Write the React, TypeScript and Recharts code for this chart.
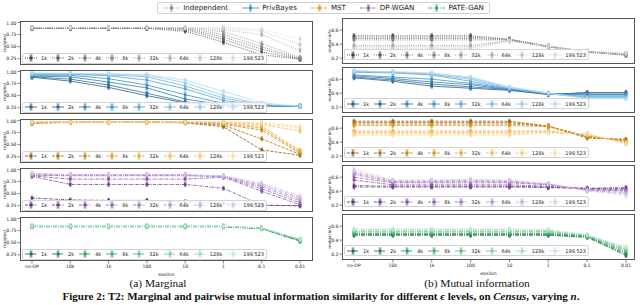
import React from 'react';
import { LineChart, Line, XAxis, YAxis } from 'recharts';

const epsilons = ['no-DP', '10k', '1k', '100', '10', '1', '0.1', '0.01'];
const sizes = ['1k', '2k', '4k', '8k', '32k', '64k', '128k', '199,523'];
const methods = ['Independent', 'PrivBayes', 'MST', 'DP-WGAN', 'PATE-GAN'];

// one row per dataset size (1k ... 199,523), one value per epsilon
const independentMarginal = [
  [0.875, 0.875, 0.875, 0.875, 0.82, 0.59, 0.33, 0.24],
  [0.88, 0.88, 0.88, 0.88, 0.85, 0.65, 0.39, 0.24],
  [0.885, 0.885, 0.885, 0.885, 0.87, 0.7, 0.45, 0.25],
  [0.89, 0.89, 0.89, 0.89, 0.88, 0.75, 0.5, 0.26],
  [0.89, 0.89, 0.89, 0.89, 0.885, 0.81, 0.56, 0.28],
  [0.895, 0.895, 0.895, 0.895, 0.89, 0.85, 0.75, 0.42],
  [0.895, 0.895, 0.895, 0.895, 0.89, 0.88, 0.82, 0.54],
  [0.9, 0.9, 0.9, 0.9, 0.895, 0.9, 0.86, 0.66],
];
const independentMI = [
  [0.52, 0.52, 0.52, 0.52, 0.47, 0.37, 0.29, 0.24],
  [0.5, 0.5, 0.5, 0.5, 0.47, 0.37, 0.29, 0.25],
  [0.48, 0.48, 0.48, 0.48, 0.46, 0.36, 0.29, 0.25],
  [0.46, 0.46, 0.46, 0.46, 0.46, 0.36, 0.28, 0.25],
  [0.38, 0.38, 0.38, 0.38, 0.45, 0.36, 0.29, 0.26],
  [0.36, 0.36, 0.36, 0.36, 0.45, 0.37, 0.29, 0.26],
  [0.34, 0.34, 0.34, 0.34, 0.45, 0.37, 0.3, 0.27],
  [0.32, 0.32, 0.32, 0.32, 0.44, 0.37, 0.3, 0.27],
];
const privBayesMarginal = [
  [0.88, 0.8, 0.67, 0.5, 0.35, 0.3, 0.29, 0.28],
  [0.89, 0.84, 0.72, 0.55, 0.37, 0.3, 0.29, 0.28],
  [0.9, 0.89, 0.78, 0.66, 0.43, 0.31, 0.29, 0.28],
  [0.92, 0.92, 0.85, 0.72, 0.52, 0.34, 0.3, 0.28],
  [0.94, 0.94, 0.91, 0.82, 0.64, 0.4, 0.3, 0.28],
  [0.95, 0.95, 0.93, 0.89, 0.7, 0.45, 0.31, 0.28],
  [0.96, 0.95, 0.94, 0.92, 0.77, 0.5, 0.32, 0.28],
  [0.97, 0.96, 0.95, 0.94, 0.82, 0.59, 0.35, 0.28],
];
const privBayesMI = [
  [0.62, 0.57, 0.5, 0.47, 0.44, 0.38, 0.41, 0.41],
  [0.63, 0.59, 0.53, 0.49, 0.45, 0.38, 0.4, 0.4],
  [0.65, 0.61, 0.56, 0.52, 0.45, 0.39, 0.38, 0.38],
  [0.66, 0.63, 0.6, 0.54, 0.46, 0.39, 0.37, 0.37],
  [0.7, 0.69, 0.66, 0.57, 0.46, 0.39, 0.35, 0.35],
  [0.71, 0.7, 0.67, 0.6, 0.47, 0.39, 0.34, 0.34],
  [0.72, 0.7, 0.68, 0.62, 0.48, 0.4, 0.33, 0.33],
  [0.72, 0.71, 0.69, 0.63, 0.49, 0.4, 0.32, 0.32],
];
const mstMarginal = [
  [0.94, 0.96, 0.97, 0.97, 0.95, 0.87, 0.39, 0.28],
  [0.95, 0.97, 0.97, 0.97, 0.96, 0.9, 0.62, 0.3],
  [0.96, 0.97, 0.97, 0.97, 0.96, 0.92, 0.8, 0.32],
  [0.96, 0.97, 0.97, 0.97, 0.97, 0.94, 0.84, 0.35],
  [0.97, 0.97, 0.97, 0.97, 0.97, 0.95, 0.88, 0.38],
  [0.97, 0.97, 0.97, 0.97, 0.97, 0.96, 0.92, 0.78],
  [0.97, 0.97, 0.97, 0.97, 0.97, 0.97, 0.94, 0.85],
  [0.97, 0.97, 0.97, 0.97, 0.97, 0.97, 0.96, 0.88],
];
const mstMI = [
  [0.7, 0.7, 0.7, 0.7, 0.7, 0.63, 0.46, 0.44],
  [0.68, 0.68, 0.68, 0.68, 0.68, 0.63, 0.47, 0.43],
  [0.66, 0.66, 0.66, 0.66, 0.66, 0.63, 0.48, 0.42],
  [0.64, 0.64, 0.64, 0.64, 0.64, 0.62, 0.49, 0.41],
  [0.56, 0.56, 0.56, 0.56, 0.56, 0.56, 0.5, 0.4],
  [0.54, 0.54, 0.54, 0.54, 0.54, 0.55, 0.51, 0.39],
  [0.52, 0.52, 0.52, 0.52, 0.52, 0.54, 0.52, 0.38],
  [0.5, 0.5, 0.5, 0.5, 0.5, 0.53, 0.52, 0.37],
];
const dpwganMarginal = [
  [0.41, 0.37, 0.36, 0.36, 0.33, 0.3, 0.26, 0.25],
  [0.86, 0.69, 0.69, 0.69, 0.69, 0.61, 0.26, 0.25],
  [0.87, 0.8, 0.8, 0.8, 0.8, 0.84, 0.55, 0.27],
  [0.88, 0.87, 0.87, 0.87, 0.87, 0.85, 0.6, 0.31],
  [0.89, 0.88, 0.88, 0.88, 0.88, 0.86, 0.64, 0.35],
  [0.9, 0.89, 0.89, 0.89, 0.89, 0.86, 0.67, 0.39],
  [0.91, 0.89, 0.89, 0.89, 0.89, 0.86, 0.7, 0.42],
  [0.92, 0.9, 0.9, 0.9, 0.9, 0.87, 0.72, 0.45],
];
const dpwganMI = [
  [0.46, 0.46, 0.46, 0.46, 0.46, 0.45, 0.44, 0.44],
  [0.48, 0.47, 0.47, 0.47, 0.47, 0.46, 0.44, 0.45],
  [0.56, 0.49, 0.49, 0.49, 0.49, 0.47, 0.43, 0.42],
  [0.6, 0.52, 0.52, 0.52, 0.52, 0.49, 0.42, 0.41],
  [0.64, 0.53, 0.53, 0.54, 0.53, 0.5, 0.42, 0.4],
  [0.66, 0.54, 0.54, 0.55, 0.54, 0.5, 0.41, 0.38],
  [0.68, 0.55, 0.55, 0.56, 0.55, 0.5, 0.41, 0.36],
  [0.71, 0.56, 0.56, 0.57, 0.56, 0.51, 0.4, 0.34],
];
const pateMarginal = [
  [0.83, 0.83, 0.83, 0.83, 0.83, 0.83, 0.79, 0.53],
  [0.83, 0.83, 0.83, 0.83, 0.83, 0.83, 0.79, 0.54],
  [0.835, 0.835, 0.835, 0.835, 0.835, 0.835, 0.795, 0.55],
  [0.835, 0.835, 0.835, 0.835, 0.835, 0.835, 0.8, 0.55],
  [0.84, 0.84, 0.84, 0.84, 0.84, 0.84, 0.8, 0.56],
  [0.84, 0.84, 0.84, 0.84, 0.84, 0.84, 0.8, 0.56],
  [0.84, 0.84, 0.84, 0.84, 0.84, 0.84, 0.8, 0.57],
  [0.84, 0.84, 0.84, 0.84, 0.84, 0.84, 0.8, 0.57],
];
const pateMI = [
  [0.47, 0.47, 0.47, 0.47, 0.47, 0.47, 0.44, 0.18],
  [0.48, 0.48, 0.48, 0.48, 0.48, 0.48, 0.45, 0.2],
  [0.49, 0.49, 0.49, 0.49, 0.49, 0.49, 0.45, 0.22],
  [0.5, 0.5, 0.5, 0.5, 0.5, 0.5, 0.46, 0.24],
  [0.52, 0.52, 0.52, 0.52, 0.52, 0.52, 0.46, 0.26],
  [0.53, 0.53, 0.53, 0.53, 0.53, 0.53, 0.47, 0.27],
  [0.55, 0.55, 0.55, 0.55, 0.55, 0.54, 0.47, 0.29],
  [0.56, 0.56, 0.56, 0.56, 0.56, 0.55, 0.48, 0.3],
];

const marginalTicks = [0.25, 0.5, 0.75, 1.0];
const miTicks = [0.2, 0.4, 0.6];

const palettes = [
  ['#3d3d3d', '#555555', '#6b6b6b', '#808080', '#969696', '#ababab', '#c1c1c1', '#d6d6d6'],
  ['#2f5f82', '#2f6f9a', '#2f80b3', '#3a90c8', '#56a2d6', '#74b5e2', '#94c8ec', '#b4daf4'],
  ['#8a5a14', '#a86d12', '#c68210', '#e0960f', '#f0a829', '#f5b84f', '#f8c878', '#fad9a3'],
  ['#5b2d76', '#6d3b8b', '#7f4c9e', '#9060af', '#a277be', '#b590cc', '#c8aad9', '#dbc6e7'],
  ['#1f6a3c', '#257f4a', '#2c955a', '#3ba96b', '#58bb82', '#79cb9b', '#9bd9b4', '#bfe8cf'],
];
const legendColors = ['#8a8a8a', '#3a8ec8', '#e8982a', '#8a5aab', '#3aa96b'];
const dashes = ['1 1.2', undefined, '3 1.3', '3 1 0.8 1', '4 1 1 1'];

const FONT = '"DejaVu Sans", sans-serif';
const SERIF = '"Liberation Serif", serif';
const PITCH = 49;
const LEFT = { x: 20, w: 293, top0: 21, h: 44, padL: 12, padR: 13, domain: [0.12, 1.03], ticks: marginalTicks, digits: 2, label: 'marginal', labelX: 3.5, legOff: 7 };
const RIGHT = { x: 342, w: 293, top0: 18, h: 46, padL: 12, padR: 9, domain: [0.115, 0.775], ticks: miTicks, digits: 1, label: 'mutual info', labelX: 329, legOff: 9.5 };

const Handle = ({ color, dash, w }: { color: string; dash?: string; w: number }) => (
  <svg width={w} height={8} style={{ display: 'block', flex: 'none' }}>
    <line x1={0} x2={w} y1={4} y2={4} stroke={color} strokeWidth={0.9} strokeDasharray={dash} />
    <line x1={w / 2} x2={w / 2} y1={1} y2={7} stroke={color} strokeWidth={0.7} />
    <line x1={w / 2 - 1.5} x2={w / 2 + 1.5} y1={1} y2={1} stroke={color} strokeWidth={0.7} />
    <line x1={w / 2 - 1.5} x2={w / 2 + 1.5} y1={7} y2={7} stroke={color} strokeWidth={0.7} />
    <rect x={w / 2 - 1.5} y={2.5} width={3} height={3} fill={color} />
  </svg>
);

const Marker = (p: any) => {
  const { cx, cy, color } = p;
  if (cx == null || cy == null) return <g />;
  return (
    <g>
      <line x1={cx} x2={cx} y1={cy - 2} y2={cy + 2} stroke={color} strokeWidth={0.6} />
      <line x1={cx - 1.2} x2={cx + 1.2} y1={cy - 2} y2={cy - 2} stroke={color} strokeWidth={0.6} />
      <line x1={cx - 1.2} x2={cx + 1.2} y1={cy + 2} y2={cy + 2} stroke={color} strokeWidth={0.6} />
      <rect x={cx - 1.3} y={cy - 1.3} width={2.6} height={2.6} fill={color} />
    </g>
  );
};

function Panel({ series, m, side, row }: { series: number[][]; m: number; side: 'left' | 'right'; row: number }) {
  const cfg = side === 'left' ? LEFT : RIGHT;
  const top = cfg.top0 + row * PITCH;
  const showX = row === 4;
  const palette = palettes[m];
  const rows = epsilons.map((e, i) => {
    const r: any = { eps: e };
    series.forEach((s, k) => { r['s' + k] = s[i]; });
    return r;
  });
  return (
    <>
      <div style={{ position: 'absolute', left: cfg.x - 20, top }}>
        <LineChart width={cfg.w + 20} height={cfg.h + (showX ? 15 : 0)} data={rows} margin={{ top: 0, right: 0, bottom: 0, left: 0 }}>
          <XAxis
            dataKey="eps"
            hide={!showX}
            height={15}
            padding={{ left: cfg.padL, right: cfg.padR }}
            axisLine={false}
            tickSize={2.5}
            tickMargin={1}
            interval={0}
            tick={{ fontSize: 4.6, fill: '#222', fontFamily: FONT }}
            tickLine={{ stroke: '#333', strokeWidth: 0.6 }}
            label={{ value: 'epsilon', position: 'insideBottom', offset: 0, fontSize: 4.6, fill: '#222', fontFamily: FONT }}
          />
          <YAxis
            type="number"
            width={20}
            domain={cfg.domain}
            allowDataOverflow
            ticks={cfg.ticks}
            tickFormatter={(v: number) => v.toFixed(cfg.digits)}
            axisLine={false}
            tickSize={2.5}
            tickMargin={1}
            tick={{ fontSize: 4.6, fill: '#222', fontFamily: FONT }}
            tickLine={{ stroke: '#333', strokeWidth: 0.6 }}
          />
          {series.map((_, k) => (
            <Line
              key={k}
              dataKey={'s' + k}
              type="linear"
              stroke={palette[k]}
              strokeWidth={0.8}
              strokeDasharray={dashes[m]}
              isAnimationActive={false}
              dot={(p: any) => <Marker key={`d-${k}-${p.index}`} {...p} color={palette[k]} />}
              activeDot={false}
            />
          ))}
        </LineChart>
      </div>
      <div style={{ position: 'absolute', left: cfg.x, top, width: cfg.w, height: cfg.h, border: '0.8px solid #555', boxSizing: 'border-box', pointerEvents: 'none' }} />
      <div
        style={{
          position: 'absolute', left: cfg.labelX, top: top + cfg.h / 2, transform: 'translate(-50%, -50%) rotate(-90deg)',
          fontSize: 4, lineHeight: '5px', fontFamily: FONT, color: '#222', whiteSpace: 'nowrap',
        }}
      >
        {cfg.label}
      </div>
      <div
        style={{
          position: 'absolute', left: cfg.x + 2, top: top + cfg.h - cfg.legOff - 5.5, height: 11, boxSizing: 'border-box',
          display: 'flex', alignItems: 'center', padding: '0 2px', background: 'rgba(255,255,255,0.85)',
          border: '0.6px solid #d4d4d4', borderRadius: 2, fontSize: 5, fontFamily: FONT, color: '#222',
        }}
      >
        {sizes.map((s, k) => (
          <div key={s} style={{ display: 'flex', alignItems: 'center', marginRight: k < sizes.length - 1 ? 5 : 0 }}>
            <Handle color={palette[k]} dash={dashes[m]} w={12} />
            <span style={{ marginLeft: 4 }}>{s}</span>
          </div>
        ))}
      </div>
    </>
  );
}

const marginalData = [independentMarginal, privBayesMarginal, mstMarginal, dpwganMarginal, pateMarginal];
const miData = [independentMI, privBayesMI, mstMI, dpwganMI, pateMI];

export default function App() {
  return (
    <div style={{ position: 'absolute', left: 0, top: 0, width: 640, height: 305, background: '#fff', overflow: 'hidden' }}>
      <div
        style={{
          position: 'absolute', left: 157, top: 1.5, width: 333, height: 12, boxSizing: 'border-box',
          display: 'flex', alignItems: 'center', justifyContent: 'center', border: '0.7px solid #cfcfcf', borderRadius: 2,
          fontSize: 7.1, fontFamily: FONT, color: '#222',
        }}
      >
        {methods.map((name, m) => (
          <div key={name} style={{ display: 'flex', alignItems: 'center', marginRight: m < methods.length - 1 ? 14 : 0 }}>
            <Handle color={legendColors[m]} dash={dashes[m]} w={17} />
            <span style={{ marginLeft: 3 }}>{name}</span>
          </div>
        ))}
      </div>
      {marginalData.map((series, m) => (
        <Panel key={'l' + m} series={series} m={m} side="left" row={m} />
      ))}
      {miData.map((series, m) => (
        <Panel key={'r' + m} series={series} m={m} side="right" row={m} />
      ))}
      <div style={{ position: 'absolute', left: 83, top: 276.5, width: 150, textAlign: 'center', fontFamily: SERIF, fontSize: 11.4, lineHeight: '13px', color: '#111' }}>
        (a) Marginal
      </div>
      <div style={{ position: 'absolute', left: 402, top: 276.5, width: 150, textAlign: 'center', fontFamily: SERIF, fontSize: 11.4, lineHeight: '13px', color: '#111' }}>
        (b) Mutual information
      </div>
      <div style={{ position: 'absolute', left: 0, top: 289.5, width: 642, textAlign: 'center', fontFamily: SERIF, fontSize: 11, lineHeight: '13px', fontWeight: 'bold', color: '#111', whiteSpace: 'nowrap' }}>
        Figure 2: T2: Marginal and pairwise mutual information similarity for different <i>ϵ</i> levels, on <i>Census</i>, varying <i>n</i>.
      </div>
    </div>
  );
}
